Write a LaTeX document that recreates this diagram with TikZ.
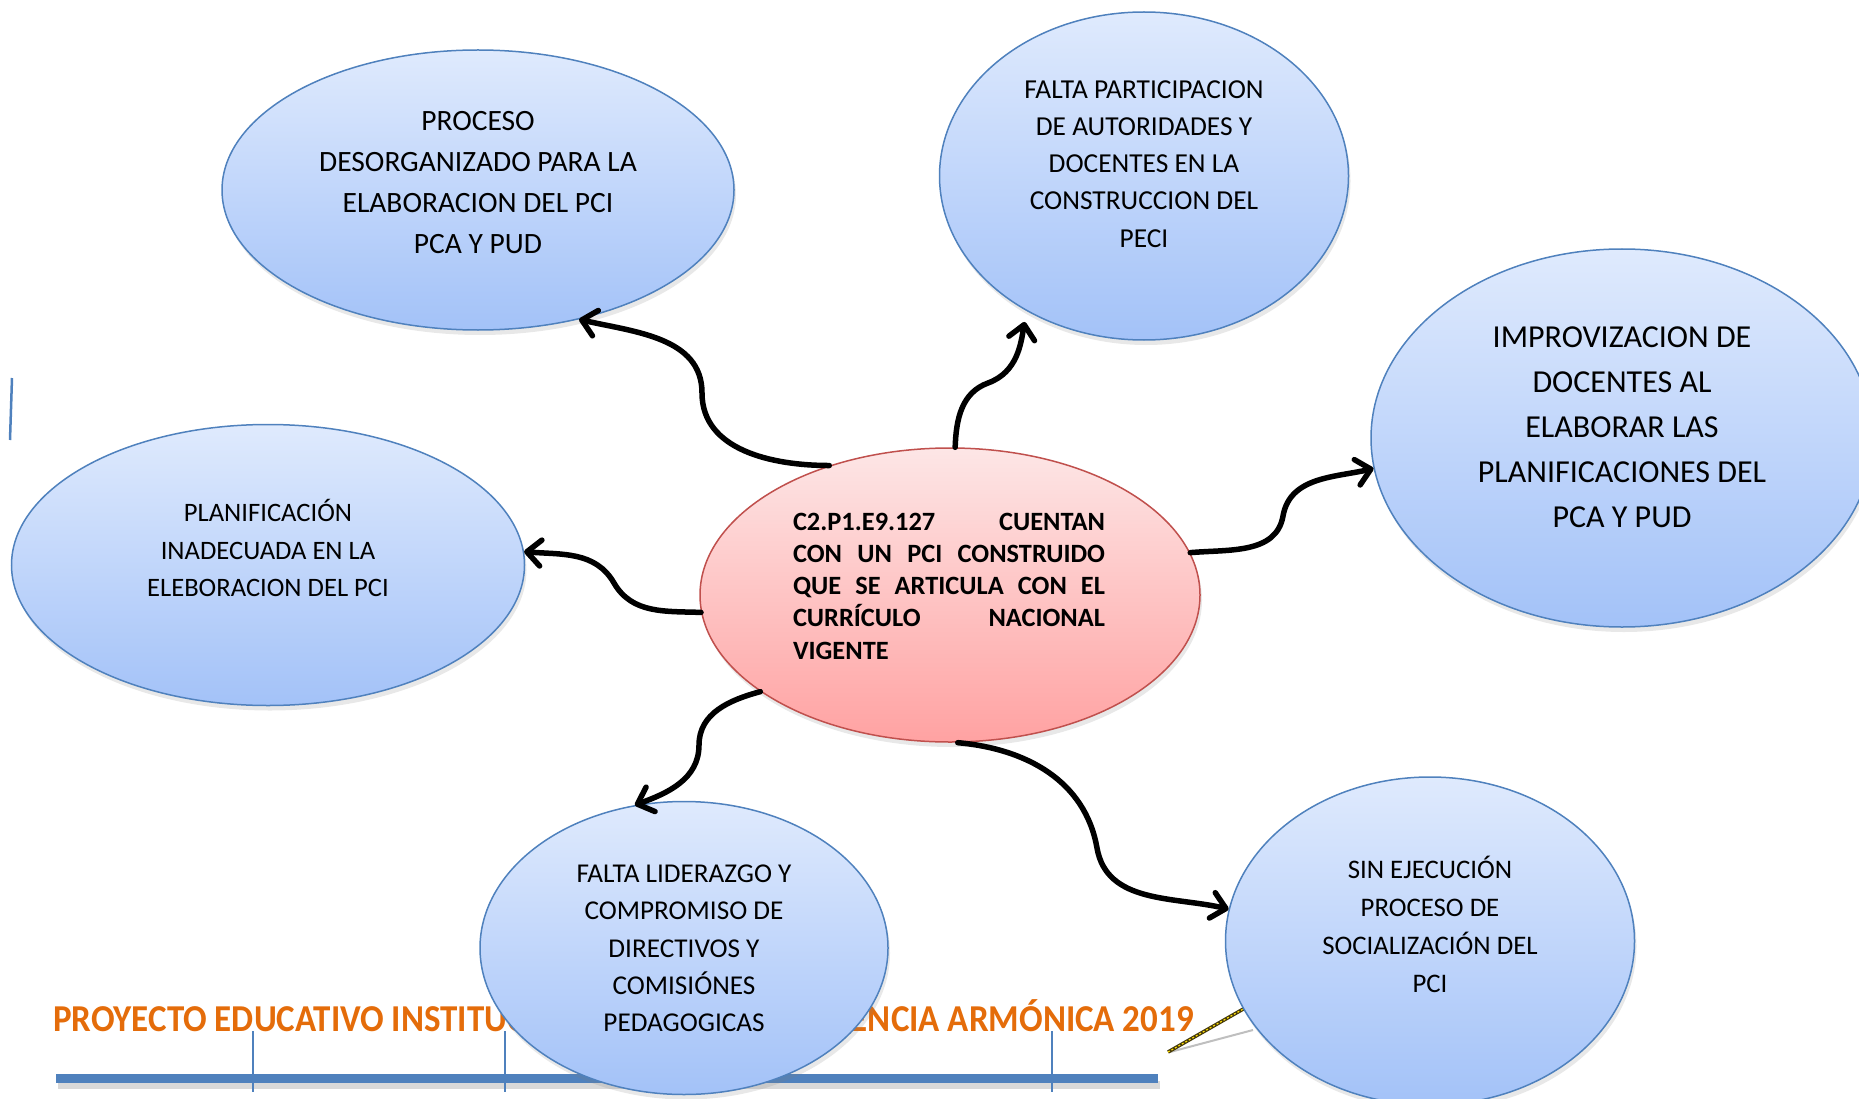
\documentclass[tikz,border=0pt]{standalone}
\usepackage{fontspec}
\setmainfont{Carlito}
\newfontfamily\footfont[FakeStretch=0.92]{Carlito}
\usetikzlibrary{shapes.geometric,arrows.meta,shadows}
\definecolor{bluebd}{RGB}{79,129,189}
\definecolor{bluetop}{RGB}{223,234,253}
\definecolor{bluebot}{RGB}{163,194,248}
\definecolor{redbd}{RGB}{192,80,77}
\definecolor{redtop}{RGB}{253,230,230}
\definecolor{redbot}{RGB}{255,162,162}
\definecolor{footorange}{RGB}{228,108,10}
\definecolor{pencil}{RGB}{70,58,10}
\begin{document}
\begin{tikzpicture}[x=1pt,y=1pt,
  bubble/.style={ellipse, draw=bluebd, line width=1.5pt, top color=bluetop, bottom color=bluebot, inner sep=0pt,
    drop shadow={opacity=0.18, shadow xshift=2pt, shadow yshift=-5pt}},
  core/.style={ellipse, draw=redbd, line width=1.5pt, top color=redtop, bottom color=redbot, inner sep=0pt,
    drop shadow={opacity=0.18, shadow xshift=2pt, shadow yshift=-5pt}},
  txt/.style={align=center, inner sep=0pt, text=black},
  arr/.style={line width=5.5pt, line cap=round, -{Straight Barb[length=14pt,width=26pt,round]}},
  foot/.style={inner sep=0pt, text=footorange, font=\footfont\bfseries\fontsize{38}{38}\selectfont},
  tick/.style={draw=bluebd, line width=1.5pt},
]
\useasboundingbox (0,0) rectangle (1859,-1099);

% footer
\node[foot, anchor=base west] (f1) at (53,-1031) {PROYECTO EDUCATIVO INSTITUC};
\node[foot, anchor=base east] (f2) at (1194,-1031) {ENCIA ARMÓNICA 2019};
\fill[black, opacity=0.15] (58,-1081) rectangle (1160,-1089);
\fill[bluebd] (56,-1074) rectangle (1158,-1083);
\draw[tick] (253,-1031) -- (253,-1092);
\draw[tick] (505,-1031) -- (505,-1092);
\draw[tick] (1052,-1031) -- (1052,-1092);
% left stray line
\draw[bluebd, line width=2.5pt] (12,-378) -- (10,-440);
% pencil line
\draw[black!25, line width=2pt] (1170,-1052) -- (1253,-1030);
\draw[pencil, line width=3.5pt] (1168,-1052) -- (1245,-1008);
\draw[yellow!80!orange, line width=1.2pt, dash pattern=on 2pt off 2pt] (1168,-1052) -- (1245,-1008);

% ellipses
\node[bubble, minimum width=512pt, minimum height=280pt] (E1) at (478,-190) {};
\node[bubble, minimum width=409pt, minimum height=328pt] (E2) at (1144,-176) {};
\node[bubble, minimum width=502pt, minimum height=378pt] (E3) at (1622,-438) {};
\node[bubble, minimum width=513pt, minimum height=281pt] (E4) at (268,-565) {};
\node[bubble, minimum width=408pt, minimum height=293pt] (E6) at (684,-948) {};
\node[bubble, minimum width=409pt, minimum height=328pt] (E7) at (1430,-941) {};
\node[core, minimum width=500pt, minimum height=294pt] (R) at (950,-595) {};

% texts
\node[txt, font=\fontsize{29.5}{41}\selectfont] (T1) at (478,-183)
  {PROCESO\\DESORGANIZADO PARA LA\\ELABORACION DEL PCI\\PCA Y PUD};
\node[txt, font=\fontsize{27.4}{37.2}\selectfont] (T2) at (1144,-164)
  {FALTA PARTICIPACION\\DE AUTORIDADES Y\\DOCENTES EN LA\\CONSTRUCCION DEL\\PECI};
\node[txt, font=\fontsize{32}{45}\selectfont] (T3) at (1622,-427)
  {IMPROVIZACION DE\\DOCENTES AL\\ELABORAR LAS\\PLANIFICACIONES DEL\\PCA Y PUD};
\node[txt, font=\fontsize{26.6}{37.5}\selectfont] (T4) at (268,-548)
  {PLANIFICACIÓN\\INADECUADA EN LA\\ELEBORACION DEL PCI};
\node[txt, font=\fontsize{27.2}{37.35}\selectfont] (T6) at (684,-948.5)
  {FALTA LIDERAZGO Y\\COMPROMISO DE\\DIRECTIVOS Y\\COMISIÓNES\\PEDAGOGICAS};
\node[txt, font=\fontsize{26.8}{38}\selectfont] (T7) at (1430,-924)
  {SIN EJECUCIÓN\\PROCESO DE\\SOCIALIZACIÓN DEL\\PCI};
\node[inner sep=0pt] (T5) at (949,-586)
  {\parbox{312pt}{\bfseries\fontsize{26.4}{32.25}\selectfont\frenchspacing
   \hyphenpenalty=10000 \hbadness=10000 \tolerance=10000
   C2.P1.E9.127 CUENTAN\linebreak CON UN PCI CONSTRUIDO\linebreak QUE SE ARTICULA CON EL\linebreak CURRÍCULO NACIONAL\linebreak VIGENTE}};

% connectors
\coordinate (wA) at (702,-393);
\coordinate (wB) at (988,-383);
\coordinate (wC) at (1283,-516);
\coordinate (wD) at (614,-583);
\coordinate (wE) at (699,-745);
\coordinate (wF) at (1097,-848);
\draw[arr] (R.133) to[out=180,in=-90] (wA) to[out=90,in=-13] (E1.308);
\draw[arr, shorten >=11pt] (R.88) to[out=88,in=200] (wB) to[out=20,in=-100] (E2.229);
\draw[arr] (R.10) to[out=5,in=-100] (wC) to[out=80,in=193] (E3.187);
\draw[arr] (R.184) to[out=178,in=-60] (wD) to[out=120,in=-5] (E4.3);
\draw[arr] (R.207) to[out=195,in=90] (wE) to[out=-90,in=20] (E6.109);
\draw[arr] (R.273) to[out=-5,in=100] (wF) to[out=-80,in=167] (E7.171);
\end{tikzpicture}
\end{document}
